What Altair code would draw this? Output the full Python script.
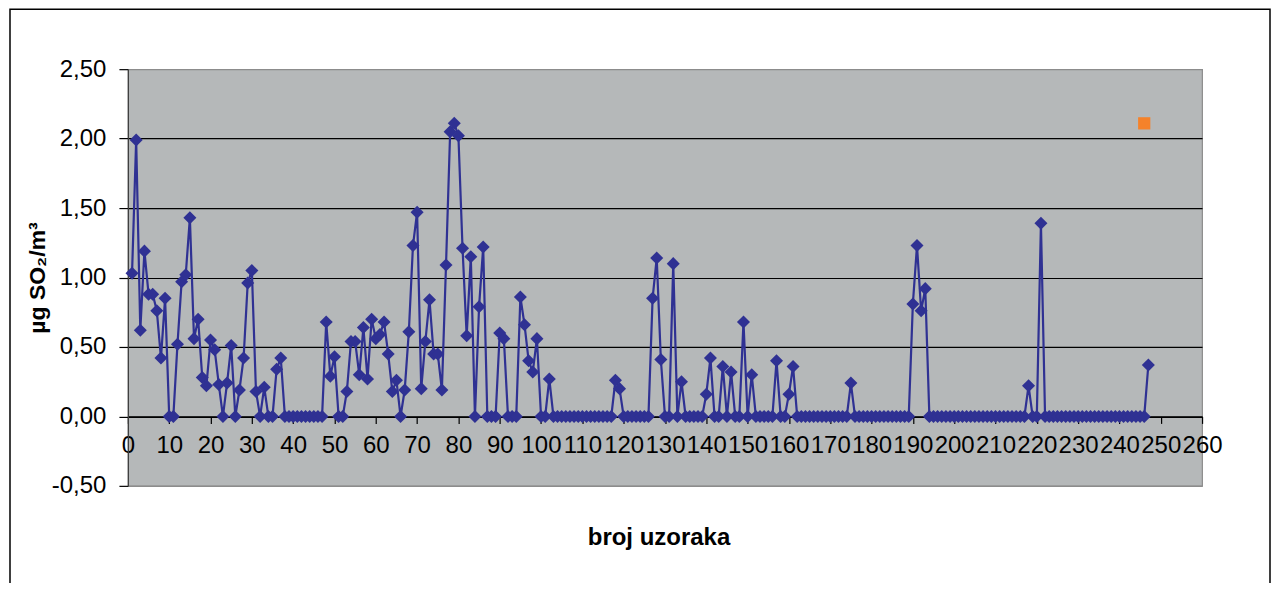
import altair as alt
import pandas as pd

# sample number (x) and SO2 concentration (y)
samples = list(range(1, 248))
so2 = [
    1.03, 1.99, 0.62, 1.19, 0.88, 0.88, 0.76, 0.42, 0.85, 0.00,   # 1-10
    0.00, 0.52, 0.97, 1.02, 1.43, 0.56, 0.70, 0.28, 0.22, 0.55,   # 11-20
    0.48, 0.23, 0.00, 0.24, 0.51, 0.00, 0.19, 0.42, 0.96, 1.05,   # 21-30
    0.18, 0.00, 0.21, 0.00, 0.00, 0.34, 0.42, 0.00, 0.00, 0.00,   # 31-40
    0.00, 0.00, 0.00, 0.00, 0.00, 0.00, 0.00, 0.68, 0.29, 0.43,   # 41-50
    0.00, 0.00, 0.18, 0.54, 0.54, 0.30, 0.64, 0.27, 0.70, 0.56,   # 51-60
    0.59, 0.68, 0.45, 0.18, 0.26, 0.00, 0.19, 0.61, 1.23, 1.47,   # 61-70
    0.20, 0.54, 0.84, 0.45, 0.45, 0.19, 1.09, 2.05, 2.11, 2.02,   # 71-80
    1.21, 0.58, 1.15, 0.00, 0.79, 1.22, 0.00, 0.00, 0.00, 0.60,   # 81-90
    0.56, 0.00, 0.00, 0.00, 0.86, 0.66, 0.40, 0.32, 0.56, 0.00,   # 91-100
    0.00, 0.27, 0.00, 0.00, 0.00, 0.00, 0.00, 0.00, 0.00, 0.00,   # 101-110
    0.00, 0.00, 0.00, 0.00, 0.00, 0.00, 0.00, 0.26, 0.20, 0.00,   # 111-120
    0.00, 0.00, 0.00, 0.00, 0.00, 0.00, 0.85, 1.14, 0.41, 0.00,   # 121-130
    0.00, 1.10, 0.00, 0.25, 0.00, 0.00, 0.00, 0.00, 0.00, 0.16,   # 131-140
    0.42, 0.00, 0.00, 0.36, 0.00, 0.32, 0.00, 0.00, 0.68, 0.00,   # 141-150
    0.30, 0.00, 0.00, 0.00, 0.00, 0.00, 0.40, 0.00, 0.00, 0.16,   # 151-160
    0.36, 0.00, 0.00, 0.00, 0.00, 0.00, 0.00, 0.00, 0.00, 0.00,   # 161-170
    0.00, 0.00, 0.00, 0.00, 0.24, 0.00, 0.00, 0.00, 0.00, 0.00,   # 171-180
    0.00, 0.00, 0.00, 0.00, 0.00, 0.00, 0.00, 0.00, 0.00, 0.81,   # 181-190
    1.23, 0.76, 0.92, 0.00, 0.00, 0.00, 0.00, 0.00, 0.00, 0.00,   # 191-200
    0.00, 0.00, 0.00, 0.00, 0.00, 0.00, 0.00, 0.00, 0.00, 0.00,   # 201-210
    0.00, 0.00, 0.00, 0.00, 0.00, 0.00, 0.00, 0.22, 0.00, 0.00,   # 211-220
    1.39, 0.00, 0.00, 0.00, 0.00, 0.00, 0.00, 0.00, 0.00, 0.00,   # 221-230
    0.00, 0.00, 0.00, 0.00, 0.00, 0.00, 0.00, 0.00, 0.00, 0.00,   # 231-240
    0.00, 0.00, 0.00, 0.00, 0.00, 0.00, 0.37,                     # 241-247
]

# second (single-point) series: orange square
extra_x = [246]
extra_y = [2.11]

x_ticks = [0, 10, 20, 30, 40, 50, 60, 70, 80, 90, 100, 110, 120, 130,
           140, 150, 160, 170, 180, 190, 200, 210, 220, 230, 240, 250, 260]
y_ticks = [-0.5, 0.0, 0.5, 1.0, 1.5, 2.0, 2.5]

df = pd.DataFrame({"uzorak": samples, "so2": so2})
df_extra = pd.DataFrame({"uzorak": extra_x, "so2": extra_y})

W, H = 1075, 417
FONT = "Liberation Sans"
BLUE = "#2f3193"
ORANGE = "#f5822a"

x_enc = alt.X(
    "uzorak:Q",
    scale=alt.Scale(domain=[0, 260], nice=False, zero=False),
    axis=alt.Axis(
        values=x_ticks, format="d", offset=-69.5, grid=False,
        domainColor="black", domainWidth=1.2,
        tickColor="black", tickSize=7, tickWidth=1.2,
        labelFont=FONT, labelFontSize=24, labelColor="black", labelPadding=10,
        labelOverlap=False, labelBound=False, labelFlush=False,
        title="broj uzoraka", titleFont=FONT, titleFontSize=24,
        titleFontWeight="bold", titleColor="black",
        titleX=531, titleY=121, titleAlign="center", titleBaseline="middle",
    ),
)

y_enc = alt.Y(
    "so2:Q",
    scale=alt.Scale(domain=[-0.5, 2.5], nice=False, zero=False),
    axis=alt.Axis(
        values=y_ticks,
        labelExpr="replace(replace(format(datum.value, '.2f'), '.', ','), '\u2212', '-')",
        grid=True,
        gridColor={"condition": {"test": "datum.value >= 2.5 || datum.value <= -0.5",
                                 "value": "#8c8c8c"},
                   "value": "black"},
        gridWidth=1.2,
        domainColor="#404040", domainWidth=1.2,
        tickColor="black", tickSize=9, tickWidth=1.2,
        labelFont=FONT, labelFontSize=24, labelColor="black", labelPadding=13,
        title="µg SO₂/m³", titleFont=FONT, titleFontSize=23,
        titleFontWeight="bold", titleColor="black",
        titleX=-90, titleY=208.5, titleAlign="center", titleBaseline="middle",
    ),
)

frame = alt.Chart(pd.DataFrame({"k": [0]})).mark_rect(
    fillOpacity=0, stroke="black", strokeWidth=1.5
).encode(
    x=alt.value(-118), x2=alt.value(1143), y=alt.value(-60), y2=alt.value(600)
)

line = alt.Chart(df).mark_line(color=BLUE, strokeWidth=2.2).encode(x=x_enc, y=y_enc)

pts = alt.Chart(df).mark_point(
    shape="diamond", filled=True, size=170, color=BLUE, opacity=1
).encode(x="uzorak:Q", y="so2:Q")

orange = alt.Chart(df_extra).mark_square(
    size=150, color=ORANGE, opacity=1
).encode(x="uzorak:Q", y="so2:Q")

chart = alt.layer(frame, line, pts, orange).properties(
    width=W,
    height=H,
    padding={"left": 120, "top": 61, "right": 72, "bottom": 97},
    autosize=alt.AutoSizeParams(type="none"),
    background="white",
).configure_view(fill="#b5b8b9", stroke="#8c8c8c", strokeWidth=1.2)

chart.save("out.html", embed_options={"renderer": "svg", "actions": False})
